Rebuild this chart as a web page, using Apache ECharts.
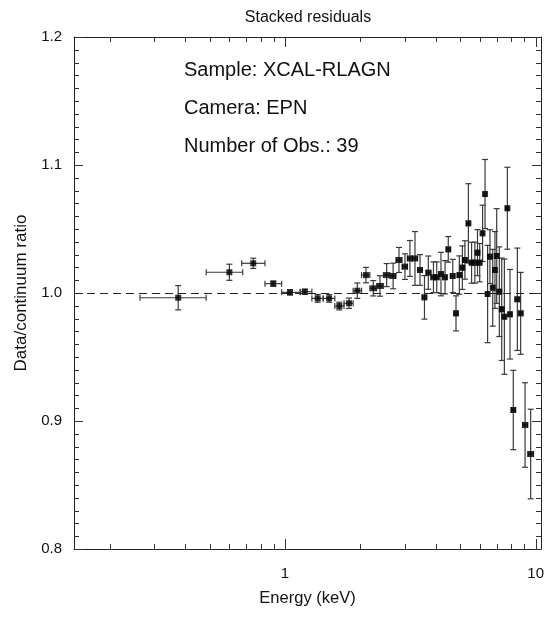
<!DOCTYPE html>
<html><head><meta charset="utf-8">
<script src="https://cdn.jsdelivr.net/npm/echarts@6/dist/echarts.min.js"></script>
<style>html,body{margin:0;padding:0;background:#fff}#c{width:551px;height:620px}</style>
</head><body><div id="c"></div>
<script>
// ---- data ----
const energy   = [0.375,0.60,0.747,0.898,1.047,1.20,1.35,1.50,1.647,1.80,1.943,2.104,2.25,2.393,2.544,2.70,2.849,3.01,3.15,3.30,3.456,3.60,3.73,3.91,4.03,4.19,4.35,4.48,4.67,4.81,4.96,5.10,5.22,5.39,5.55,5.72,5.86,5.98,6.14,6.28,6.43,6.57,6.74,6.88,6.99,7.16,7.32,7.50,7.71,7.90,8.14,8.45,8.71,9.07,9.55];
const ratio    = [0.9963,1.0162,1.0232,1.0073,1.0005,1.0010,0.9958,0.9958,0.9898,0.9920,1.0018,1.0140,1.0037,1.0055,1.0140,1.0133,1.0258,1.0206,1.0270,1.0270,1.0180,0.9966,1.0159,1.0123,1.0123,1.0148,1.0123,1.0341,1.0133,0.9841,1.0140,1.0198,1.0258,1.0544,1.0237,1.0237,1.0315,1.0237,1.0466,1.0773,0.9992,1.0284,1.0041,1.0180,1.0289,1.0010,0.9873,0.9815,1.0662,0.9834,0.9086,0.9951,0.9841,0.8969,0.8742];
const ratioErr = [0.0095,0.0063,0.004,0.002,0.002,0.002,0.003,0.003,0.003,0.004,0.006,0.006,0.006,0.008,0.009,0.010,0.0098,0.010,0.014,0.021,0.012,0.017,0.013,0.012,0.012,0.017,0.013,0.010,0.013,0.0137,0.015,0.017,0.015,0.031,0.016,0.016,0.018,0.015,0.022,0.027,0.038,0.021,0.030,0.030,0.037,0.035,0.040,0.045,0.032,0.035,0.031,0.040,0.032,0.033,0.035];
const energyLo = [0.264,0.485,0.672,0.832,0.97,1.15,1.28,1.42,1.58,1.72,1.87,2.02,2.18,2.32,2.47,2.62,2.77,2.93,3.08,3.22,3.38,3.53,3.66,3.82,3.97,4.11,4.27,4.41,4.57,4.74,4.88,5.03,5.16,5.30,5.47,5.63,5.79,5.92,6.06,6.21,6.35,6.50,6.65,6.81,6.93,7.07,7.24,7.41,7.60,7.80,8.02,8.28,8.58,8.88,9.30];
const energyHi = [0.485,0.678,0.832,0.97,1.15,1.28,1.42,1.58,1.72,1.87,2.02,2.18,2.32,2.47,2.62,2.77,2.93,3.08,3.22,3.38,3.53,3.66,3.82,3.97,4.11,4.27,4.41,4.57,4.74,4.88,5.03,5.16,5.30,5.47,5.63,5.79,5.92,6.06,6.21,6.35,6.50,6.65,6.81,6.93,7.07,7.24,7.41,7.60,7.80,8.02,8.28,8.58,8.88,9.30,9.80];
const xMajorTicks = [1, 10];
const xMinorTicks = [0.2,0.3,0.4,0.5,0.6,0.7,0.8,0.9,2,3,4,5,6,7,8,9];
const xTickLabels = {1: '1', 10: '10'};
const yMajorTicks = [0.8, 0.9, 1.0, 1.1, 1.2];
const yMinorTicks = [0.81,0.82,0.83,0.84,0.85,0.86,0.87,0.88,0.89,0.91,0.92,0.93,0.94,0.95,0.96,0.97,0.98,0.99,1.01,1.02,1.03,1.04,1.05,1.06,1.07,1.08,1.09,1.11,1.12,1.13,1.14,1.15,1.16,1.17,1.18,1.19];
const referenceLevel = 1.0;
const titleText = 'Stacked residuals';
const annotations = ['Sample: XCAL-RLAGN', 'Camera: EPN', 'Number of Obs.: 39'];
const xName = 'Energy (keV)';
const yName = 'Data/continuum ratio';

// ---- chart ----
const FONT = "'Liberation Sans', Arial, Helvetica, sans-serif";
const chart = echarts.init(document.getElementById('c'), null, {renderer: 'canvas'});

const X_MIN = 0.144, X_MAX = 10.5, Y_MIN = 0.8, Y_MAX = 1.2;
const snap = p => Math.round(p) + 0.5;

const errData = energy.map((e, i) => [e, ratio[i], ratioErr[i], energyLo[i], energyHi[i]]);
const ptData = energy.map((e, i) => [e, ratio[i]]);
const xTickData = xMajorTicks.map(v => [v, 1, 1]).concat(xMinorTicks.map(v => [v, 1, 0]));
const yTickData = yMajorTicks.map(v => [1, v, 1]).concat(yMinorTicks.map(v => [1, v, 0]));

chart.setOption({
  animation: false,
  backgroundColor: '#fff',
  grid: {left: 74, right: 10, top: 37, bottom: 71, show: false},
  xAxis: [{
    type: 'log', logBase: 10, min: X_MIN, max: X_MAX,
    axisLine: {show: true, onZero: false, lineStyle: {color: '#222', width: 1}},
    axisTick: {show: false}, splitLine: {show: false}, minorTick: {show: false},
    axisLabel: {
      show: true, margin: 17, fontSize: 15, color: '#111', fontFamily: FONT,
      showMinLabel: true, showMaxLabel: true,
      formatter: v => {
        for (const k in xTickLabels) { if (Math.abs(v - Number(k)) < 1e-6 * Number(k)) return xTickLabels[k]; }
        return '';
      }
    },
    name: xName, nameLocation: 'middle', nameGap: 41,
    nameTextStyle: {fontSize: 16.5, color: '#111', fontFamily: FONT}
  }, {
    type: 'log', logBase: 10, min: X_MIN, max: X_MAX, position: 'top',
    axisLine: {show: true, onZero: false, lineStyle: {color: '#222', width: 1}},
    axisTick: {show: false}, axisLabel: {show: false}, splitLine: {show: false}
  }],
  yAxis: [{
    type: 'value', min: Y_MIN, max: Y_MAX, interval: 0.1, position: 'left',
    axisLine: {show: true, onZero: false, lineStyle: {color: '#222', width: 1}},
    axisTick: {show: false}, minorTick: {show: false}, splitLine: {show: false},
    axisLabel: {show: true, margin: 12, fontSize: 15, color: '#111', fontFamily: FONT, formatter: v => v.toFixed(1)},
    name: yName, nameLocation: 'middle', nameGap: 44, nameRotate: 90,
    nameTextStyle: {fontSize: 17, color: '#111', fontFamily: FONT}
  }, {
    type: 'value', min: Y_MIN, max: Y_MAX, interval: 0.1, position: 'right',
    axisLine: {show: true, onZero: false, lineStyle: {color: '#222', width: 1}},
    axisTick: {show: false}, axisLabel: {show: false}, splitLine: {show: false}
  }],
  graphic: [
    {type: 'text', style: {text: titleText, x: 308, y: 18, textAlign: 'center', textVerticalAlign: 'middle', font: '16px ' + FONT, fill: '#111'}},
    {type: 'text', style: {text: annotations[0], x: 184, y: 70, textVerticalAlign: 'middle', font: '20px ' + FONT, fill: '#111'}},
    {type: 'text', style: {text: annotations[1], x: 184, y: 108, textVerticalAlign: 'middle', font: '20px ' + FONT, fill: '#111'}},
    {type: 'text', style: {text: annotations[2], x: 184, y: 146, textVerticalAlign: 'middle', font: '20px ' + FONT, fill: '#111'}}
  ],
  series: [
    {
      type: 'custom', name: 'xticks', xAxisIndex: 0, yAxisIndex: 0, silent: true, clip: false,
      data: xTickData, encode: {x: 0, y: 1},
      renderItem: (params, api) => {
        const v = api.value(0), major = api.value(2) === 1;
        const len = major ? 10 : 5;
        const b = api.coord([v, Y_MIN]), t = api.coord([v, Y_MAX]);
        const x = snap(b[0]);
        const st = {stroke: '#333', lineWidth: 1};
        return {type: 'group', children: [
          {type: 'line', shape: {x1: x, y1: b[1], x2: x, y2: b[1] - len}, style: st},
          {type: 'line', shape: {x1: x, y1: t[1], x2: x, y2: t[1] + len}, style: st}
        ]};
      }
    },
    {
      type: 'custom', name: 'yticks', xAxisIndex: 0, yAxisIndex: 0, silent: true, clip: false,
      data: yTickData, encode: {x: 0, y: 1},
      renderItem: (params, api) => {
        const v = api.value(1), major = api.value(2) === 1;
        const len = major ? 9 : 5;
        const l = api.coord([X_MIN, v]), r = api.coord([X_MAX, v]);
        const y = snap(l[1]);
        const st = {stroke: '#333', lineWidth: 1};
        return {type: 'group', children: [
          {type: 'line', shape: {x1: l[0], y1: y, x2: l[0] + len, y2: y}, style: st},
          {type: 'line', shape: {x1: r[0], y1: y, x2: r[0] - len, y2: y}, style: st}
        ]};
      }
    },
    {
      type: 'custom', name: 'errors', xAxisIndex: 0, yAxisIndex: 0, silent: true, clip: true,
      data: errData, encode: {x: 0, y: 1},
      renderItem: (params, api) => {
        const x = api.value(0), y = api.value(1), e = api.value(2), lo = api.value(3), hi = api.value(4);
        const pt = api.coord([x, y + e]), pb = api.coord([x, y - e]);
        const pl = api.coord([lo, y]), pr = api.coord([hi, y]);
        const c = 3;
        const st = {stroke: '#3a3a3a', lineWidth: 1.2};
        return {type: 'group', children: [
          {type: 'line', shape: {x1: pt[0], y1: pt[1], x2: pb[0], y2: pb[1]}, style: st},
          {type: 'line', shape: {x1: pt[0] - c, y1: pt[1], x2: pt[0] + c, y2: pt[1]}, style: st},
          {type: 'line', shape: {x1: pb[0] - c, y1: pb[1], x2: pb[0] + c, y2: pb[1]}, style: st},
          {type: 'line', shape: {x1: pl[0], y1: pl[1], x2: pr[0], y2: pr[1]}, style: st},
          {type: 'line', shape: {x1: pl[0], y1: pl[1] - c, x2: pl[0], y2: pl[1] + c}, style: st},
          {type: 'line', shape: {x1: pr[0], y1: pr[1] - c, x2: pr[0], y2: pr[1] + c}, style: st}
        ]};
      }
    },
    {
      type: 'scatter', name: 'ratio', xAxisIndex: 0, yAxisIndex: 0, silent: true,
      data: ptData, symbol: 'rect', symbolSize: 6,
      itemStyle: {color: '#000'}, z: 5,
      markLine: {
        silent: true, symbol: ['none', 'none'], label: {show: false},
        lineStyle: {color: '#222', width: 1, type: [8, 5]},
        data: [{yAxis: referenceLevel}]
      }
    }
  ]
});
</script></body></html>
